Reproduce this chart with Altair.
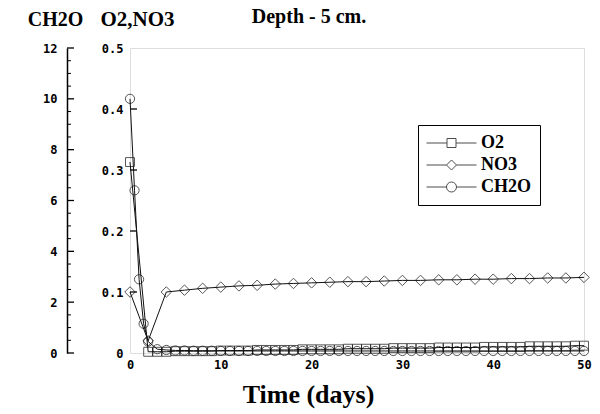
import altair as alt
import pandas as pd

# ---------------- data ----------------
series_names = ["O2", "NO3", "CH2O"]

o2_t = [0, 2, 3, 4, 5, 6, 7, 8, 9, 10,
        11, 12, 13, 14, 15, 16, 17, 18, 19, 20,
        21, 22, 23, 24, 25, 26, 27, 28, 29, 30,
        31, 32, 33, 34, 35, 36, 37, 38, 39, 40,
        41, 42, 43, 44, 45, 46, 47, 48, 49, 50]
o2_v = [0.313, 0.002, 0.002, 0.002, 0.003, 0.003, 0.003, 0.003, 0.003, 0.004,
        0.004, 0.004, 0.004, 0.005, 0.005, 0.005, 0.005, 0.005, 0.006, 0.006,
        0.006, 0.006, 0.006, 0.007, 0.007, 0.007, 0.007, 0.007, 0.008, 0.008,
        0.008, 0.008, 0.008, 0.009, 0.009, 0.009, 0.009, 0.009, 0.010, 0.010,
        0.010, 0.010, 0.010, 0.011, 0.011, 0.011, 0.011, 0.011, 0.012, 0.012]

no3_t = [0, 2, 4, 6, 8, 10, 12, 14, 16, 18, 20, 22, 24,
         26, 28, 30, 32, 34, 36, 38, 40, 42, 44, 46, 48, 50]
no3_v = [0.100, 0.020, 0.100, 0.103, 0.106, 0.108, 0.110, 0.111, 0.113, 0.114, 0.115, 0.116, 0.117,
         0.117, 0.118, 0.119, 0.119, 0.120, 0.120, 0.121, 0.121, 0.122, 0.122, 0.123, 0.123, 0.124]

ch2o_t = [0, 0.5, 1, 1.5, 2, 3, 4, 5, 6, 7, 8, 9, 10,
          11, 12, 13, 14, 15, 16, 17, 18, 19, 20,
          21, 22, 23, 24, 25, 26, 27, 28, 29, 30,
          31, 32, 33, 34, 35, 36, 37, 38, 39, 40,
          41, 42, 43, 44, 45, 46, 47, 48, 49, 50]
ch2o_v = [10.0, 6.4, 2.9, 1.15, 0.45, 0.15, 0.12, 0.10, 0.10, 0.09, 0.09, 0.09, 0.08,
          0.08, 0.08, 0.08, 0.08, 0.08, 0.08, 0.08, 0.08, 0.08, 0.08,
          0.08, 0.08, 0.08, 0.08, 0.08, 0.08, 0.08, 0.08, 0.08, 0.08,
          0.08, 0.08, 0.08, 0.08, 0.08, 0.08, 0.08, 0.08, 0.08, 0.08,
          0.08, 0.08, 0.08, 0.08, 0.08, 0.08, 0.08, 0.08, 0.08, 0.08]

x_ticks = [0, 10, 20, 30, 40, 50]
y_ticks = [0, 0.1, 0.2, 0.3, 0.4, 0.5]
y_inner_ticks = [0.1, 0.2, 0.3, 0.4]
c_ticks = [0, 2, 4, 6, 8, 10, 12]
c_minor = [0.5, 1, 1.5, 2.5, 3, 3.5, 4.5, 5, 5.5, 6.5, 7, 7.5,
           8.5, 9, 9.5, 10.5, 11, 11.5]

df_o2 = pd.DataFrame({"t": o2_t, "y": o2_v})
df_no3 = pd.DataFrame({"t": no3_t, "y": no3_v})
df_ch2o = pd.DataFrame({"t": ch2o_t, "c": ch2o_v})
df_yt = pd.DataFrame({"y": y_inner_ticks})
df_ct = pd.DataFrame({"c": c_ticks})
df_cm = pd.DataFrame({"c": c_minor})
df_leg = pd.DataFrame({"series": series_names})

# ---------------- styling ----------------
SERIF = "Liberation Serif"
MONO = "DejaVu Sans Mono"
INK = "#111111"

legend_paths = [
    "M-1,0H-0.18M0.18,0H1M-0.18,-0.18H0.18V0.18H-0.18Z",
    "M-1,0H-0.2M0.2,0H1M0,-0.2L0.2,0L0,0.2L-0.2,0Z",
    "M-1,0H-0.2M0.2,0H1M-0.2,0A0.2,0.2,0,1,1,0.2,0A0.2,0.2,0,1,1,-0.2,0Z",
]

xs = alt.Scale(domain=[0, 50], nice=False, zero=False)
ys = alt.Scale(domain=[0, 0.5], nice=False)
cs = alt.Scale(domain=[0, 12], nice=False)

x_enc = alt.X("t:Q", scale=xs, axis=alt.Axis(
    values=x_ticks, domain=False, ticks=False, grid=False, labelFlush=False,
    labelPadding=6, labelFont=MONO, labelFontWeight="bold", labelFontSize=12,
    labelColor="black", title="Time (days)", titleFont=SERIF, titleFontSize=26,
    titleFontWeight="bold", titleColor="black", titlePadding=11,
    titleX=178, titleAlign="center"))

y_axis = alt.Axis(
    values=y_ticks, domain=False, ticks=False, grid=False, labelFlush=False,
    labelPadding=7, labelFont=MONO, labelFontWeight="bold", labelFontSize=12,
    labelColor="black",
    labelExpr="datum.value == 0 ? '0' : format(datum.value, '.1f')",
    title="O2,NO3", titleAngle=0, titleAlign="center", titleBaseline="alphabetic",
    titleX=7, titleY=-23, titleFont=SERIF, titleFontSize=21, titleFontWeight="bold",
    titleColor="black")

c_axis = alt.Axis(
    orient="left", offset=63, values=c_ticks, domain=True, domainColor="black",
    domainWidth=1.5, ticks=False, grid=False, labelFlush=False, labelPadding=10,
    labelFont=MONO, labelFontWeight="bold", labelFontSize=12, labelColor="black",
    title="CH2O", titleAngle=0, titleAlign="center", titleBaseline="alphabetic",
    titleX=-12, titleY=-23, titleFont=SERIF, titleFontSize=20, titleFontWeight="bold",
    titleColor="black")

# ---------------- main (O2, NO3) ----------------
o2_line = alt.Chart(df_o2).mark_line(color=INK, strokeWidth=1).encode(
    x=x_enc, y=alt.Y("y:Q", scale=ys, axis=y_axis))
o2_pts = alt.Chart(df_o2).mark_point(shape="square", filled=False, color=INK,
                                     size=80, strokeWidth=1).encode(
    x=alt.X("t:Q", scale=xs), y=alt.Y("y:Q", scale=ys))
no3_line = alt.Chart(df_no3).mark_line(color=INK, strokeWidth=1).encode(
    x=alt.X("t:Q", scale=xs), y=alt.Y("y:Q", scale=ys))
no3_pts = alt.Chart(df_no3).mark_point(shape="diamond", filled=False, color=INK,
                                       size=110, strokeWidth=1).encode(
    x=alt.X("t:Q", scale=xs), y=alt.Y("y:Q", scale=ys))
y_tick_rules = alt.Chart(df_yt).mark_rule(color="black", strokeWidth=1.3).encode(
    y=alt.Y("y:Q", scale=ys), x=alt.value(0), x2=alt.value(7))

legend_carrier = alt.Chart(df_leg).mark_point(
    filled=False, color="black", size=2500, strokeWidth=1, clip=True
).encode(
    shape=alt.Shape("series:N", scale=alt.Scale(domain=series_names, range=legend_paths),
                    legend=alt.Legend(
                        title=None, orient="none", legendX=288, legendY=77,
                        symbolSize=2500, symbolStrokeWidth=1, symbolStrokeColor="black",
                        symbolFillColor="transparent", clipHeight=20, rowPadding=2,
                        labelOffset=4, labelFont=SERIF, labelFontSize=18,
                        labelFontWeight="bold", labelColor="black",
                        strokeColor="black", fillColor="white", padding=8)),
    x=alt.value(-3000), y=alt.value(-3000))

main = alt.layer(o2_line, no3_line, o2_pts, no3_pts, y_tick_rules, legend_carrier)

# ---------------- CH2O (own left axis) ----------------
c_line = alt.Chart(df_ch2o).mark_line(color=INK, strokeWidth=1).encode(
    x=alt.X("t:Q", scale=xs), y=alt.Y("c:Q", scale=cs, axis=c_axis))
c_pts = alt.Chart(df_ch2o).mark_point(shape="circle", filled=False, color=INK,
                                      size=85, strokeWidth=1).encode(
    x=alt.X("t:Q", scale=xs), y=alt.Y("c:Q", scale=cs))
c_major = alt.Chart(df_ct).mark_rule(color="black", strokeWidth=1.3).encode(
    y=alt.Y("c:Q", scale=cs), x=alt.value(-63), x2=alt.value(-56))
c_min = alt.Chart(df_cm).mark_rule(color="black", strokeWidth=1).encode(
    y=alt.Y("c:Q", scale=cs), x=alt.value(-63), x2=alt.value(-59))

ch2o = alt.layer(c_line, c_pts, c_major, c_min)

chart = alt.layer(main, ch2o).resolve_scale(y="independent").properties(
    width=454, height=305,
    padding={"left": 130, "top": 48, "right": 16, "bottom": 61},
    autosize=alt.AutoSizeParams(type="none"),
    title=alt.TitleParams("Depth - 5 cm.", font=SERIF, fontSize=20, fontWeight="bold",
                          color="black", anchor="middle", frame="group", dx=-48,
                          offset=0, dy=19),
).configure_view(stroke="black", strokeWidth=1.5).configure(background="white")

chart.save("out.html", embed_options={"renderer": "svg", "actions": False})
